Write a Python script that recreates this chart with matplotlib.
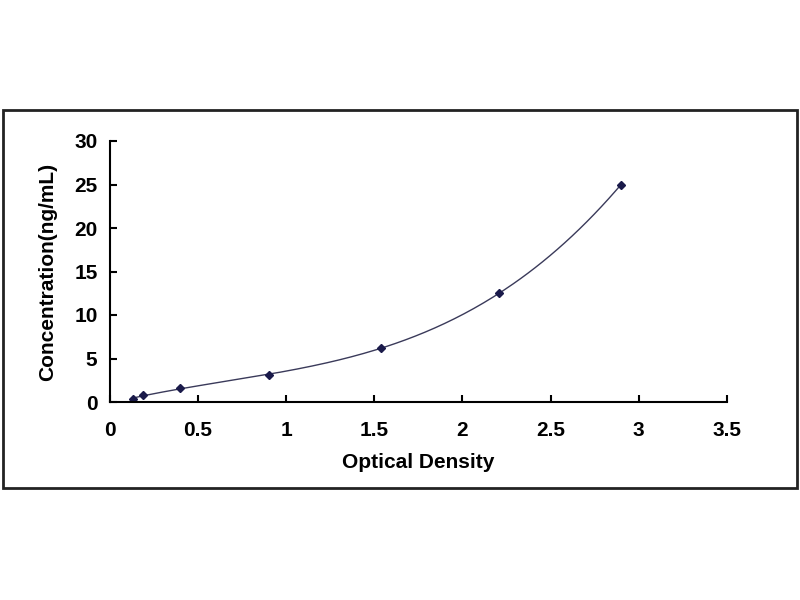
import numpy as np
import matplotlib.pyplot as plt
from matplotlib.patches import Rectangle

plt.rcParams['font.family'] = ['Liberation Sans', 'DejaVu Sans']
plt.rcParams['font.weight'] = 'bold'

# standard curve points
od = [0.13, 0.19, 0.40, 0.90, 1.54, 2.21, 2.90]
conc = [0.39, 0.78, 1.56, 3.12, 6.25, 12.5, 25.0]

x_ticks = [0, 0.5, 1, 1.5, 2, 2.5, 3, 3.5]
x_labels = ['0', '0.5', '1', '1.5', '2', '2.5', '3', '3.5']
y_ticks = [0, 5, 10, 15, 20, 25, 30]

fig = plt.figure(figsize=(8, 6), dpi=100)
fig.patches.append(Rectangle((0.004, 0.187), 0.992, 0.63, transform=fig.transFigure,
                             fill=False, edgecolor='#222222', linewidth=2))

ax = fig.add_axes([0.1375, 0.33, 0.771, 0.435])

# smooth fitted curve through the standards
coef = np.polyfit(od, conc, 3)
xs = np.linspace(min(od), max(od), 200)
ax.plot(xs, np.polyval(coef, xs), color='#3a3a5a', linewidth=1)
ax.plot(od, conc, linestyle='none', marker='D', markersize=4, color='#1a1a4a')

ax.set_xlim(0, 3.5)
ax.set_ylim(0, 30)
ax.set_xticks(x_ticks)
ax.set_xticklabels(x_labels)
ax.set_yticks(y_ticks)
ax.spines['top'].set_visible(False)
ax.spines['right'].set_visible(False)
ax.spines['left'].set_linewidth(1.5)
ax.spines['bottom'].set_linewidth(1.5)
ax.tick_params(direction='in', length=5, width=1.5, labelsize=15)
ax.tick_params(axis='x', pad=14)
ax.tick_params(axis='y', pad=9)
ax.set_xlabel('Optical Density', fontsize=15, fontweight='bold', labelpad=9)
ax.set_ylabel('Concentration(ng/mL)', fontsize=15, fontweight='bold', labelpad=12)

fig.savefig('out.png', dpi=100)
